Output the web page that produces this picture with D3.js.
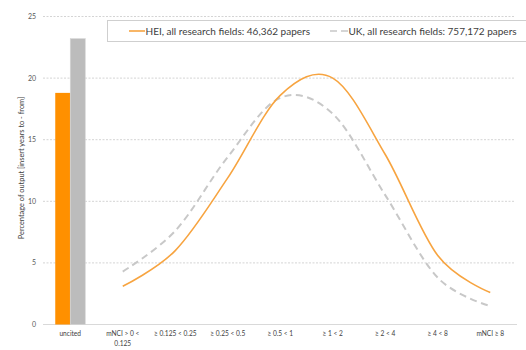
<!DOCTYPE html>
<html>
<head>
<meta charset="utf-8">
<script src="https://cdn.jsdelivr.net/npm/d3@7"></script>
<style>
  html, body { margin: 0; padding: 0; background: #fff; }
  svg { display: block; font-family: Lato, "Open Sans", sans-serif; }
</style>
</head>
<body>
<svg id="chart" width="526" height="350"></svg>
<script>
// Citation impact categories (mNCI bands)
const categories = ["uncited", "mNCI > 0 < 0.125", "≥ 0.125 < 0.25", "≥ 0.25 < 0.5",
  "≥ 0.5 < 1", "≥ 1 < 2", "≥ 2 < 4", "≥ 4 < 8", "mNCI ≥ 8"];
// Percentage of output in each band
const heiValues = [18.8, 3.1, 6.0, 11.9, 18.6, 20.0, 13.8, 5.6, 2.6];
const ukValues  = [23.2, 4.3, 7.6, 13.6, 18.4, 17.1, 10.5, 3.8, 1.5];
const seriesNames = ["HEI, all research fields: 46,362 papers", "UK, all research fields: 757,172 papers"];
const yTicks = [0, 5, 10, 15, 20, 25];

const svg = d3.select("#chart");
const x = d3.scaleBand().domain(categories).range([44, 516.5]);
const y = d3.scaleLinear().domain([0, 25]).range([324.5, 16.5]);

// gridlines
svg.append("g").selectAll("line").data(yTicks.filter(d => d > 0)).join("line")
  .attr("x1", 43).attr("x2", 515)
  .attr("y1", d => y(d)).attr("y2", d => y(d))
  .attr("stroke", "#d4d4d4").attr("stroke-width", 1).attr("stroke-dasharray", "2,1.5");

// baseline
svg.append("line").attr("x1", 43).attr("x2", 517).attr("y1", y(0)).attr("y2", y(0))
  .attr("stroke", "#d9d9d9").attr("stroke-width", 1.2);

// y tick labels
svg.append("g").selectAll("text").data(yTicks).join("text")
  .attr("x", 36).attr("y", d => y(d)).attr("dy", "0.35em")
  .attr("text-anchor", "end").attr("font-size", 7).attr("fill", "#595959")
  .text(d => d);

// y axis title
svg.append("text")
  .attr("transform", `translate(24,${168}) rotate(-90)`)
  .attr("text-anchor", "middle").attr("font-size", 7.4).attr("fill", "#404040")
  .text("Percentage of output  [insert years to - from]");

// x labels (wrapping the first band label onto two lines)
const xl = svg.append("g").selectAll("text").data(categories).join("text")
  .attr("x", d => x(d) + x.bandwidth() / 2).attr("y", 336)
  .attr("text-anchor", "middle").attr("font-size", 6.6).attr("fill", "#404040");
xl.each(function(d) {
  const t = d3.select(this);
  if (d === "mNCI > 0 < 0.125") {
    t.append("tspan").attr("x", x(d) + x.bandwidth() / 2).text("mNCI > 0 <");
    t.append("tspan").attr("x", x(d) + x.bandwidth() / 2).attr("dy", 9.5).text("0.125");
  } else {
    t.text(d);
  }
});

// uncited bars
const cx0 = x("uncited") + x.bandwidth() / 2;
const bw = 15;
svg.append("rect").attr("x", cx0 - bw).attr("width", bw)
  .attr("y", y(heiValues[0])).attr("height", y(0) - y(heiValues[0]))
  .attr("fill", "#ff9000");
svg.append("rect").attr("x", cx0).attr("width", bw)
  .attr("y", y(ukValues[0])).attr("height", y(0) - y(ukValues[0]))
  .attr("fill", "#bcbcbc").attr("stroke", "#d6d6d6").attr("stroke-width", 0.6);

// smoothed distribution lines for the cited bands
const idx = d3.range(1, categories.length);
const line = d3.line()
  .x(i => x(categories[i]) + x.bandwidth() / 2)
  .curve(d3.curveCatmullRom.alpha(0));

svg.append("path").datum(idx)
  .attr("d", line.y(i => y(ukValues[i])))
  .attr("fill", "none").attr("stroke", "#c8c8c8").attr("stroke-width", 2)
  .attr("stroke-dasharray", "7,4.5");

svg.append("path").datum(idx)
  .attr("d", line.y(i => y(heiValues[i])))
  .attr("fill", "none").attr("stroke", "#f7a440").attr("stroke-width", 1.6);

// legend
const lg = svg.append("g");
lg.append("rect").attr("x", 107.5).attr("y", 20.5).attr("width", 430).attr("height", 21)
  .attr("fill", "#fff").attr("stroke", "#cfcfcf").attr("stroke-width", 1);
lg.append("line").attr("x1", 129).attr("x2", 145).attr("y1", 31).attr("y2", 31)
  .attr("stroke", "#f7a440").attr("stroke-width", 1.6);
lg.append("text").attr("x", 145.5).attr("y", 31).attr("dy", "0.35em")
  .attr("font-size", 10).attr("fill", "#404040").text(seriesNames[0]);
lg.append("line").attr("x1", 330).attr("x2", 348).attr("y1", 31).attr("y2", 31)
  .attr("stroke", "#c8c8c8").attr("stroke-width", 1.6).attr("stroke-dasharray", "7,4");
lg.append("text").attr("x", 348.5).attr("y", 31).attr("dy", "0.35em")
  .attr("font-size", 10).attr("fill", "#404040").text(seriesNames[1]);
</script>
</body>
</html>
